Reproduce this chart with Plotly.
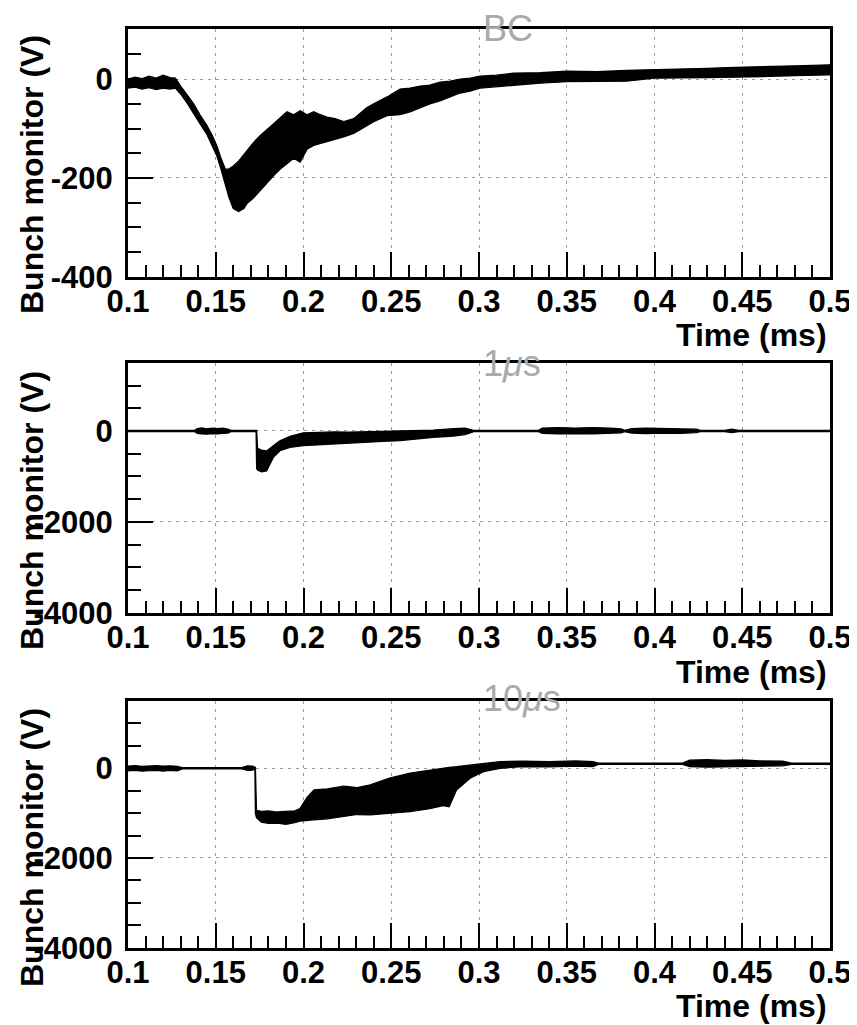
import plotly.graph_objects as go

# The page body has an 8 px default margin, so the figure is drawn 8 px in.
PAGE_MARGIN = 8
W, H = 857 - PAGE_MARGIN, 1025 - PAGE_MARGIN

# ---------------- data ----------------
# Panel "BC": envelope of the bunch-monitor waveform (V) vs time (ms)
T_BC = [0.100, 0.104, 0.108, 0.112, 0.116, 0.120, 0.124, 0.127, 0.130, 0.134,
        0.1374, 0.141, 0.145, 0.148, 0.1507, 0.153, 0.1554, 0.1574, 0.160, 0.163,
        0.166, 0.1678, 0.1716, 0.1754, 0.1792, 0.183, 0.1868, 0.1906, 0.1944, 0.1981,
        0.2020, 0.2058, 0.2096, 0.2134, 0.218, 0.2229, 0.2286, 0.2324, 0.236, 0.240,
        0.2476, 0.255, 0.2607, 0.2664, 0.272, 0.2778, 0.2835, 0.2892, 0.295, 0.3006,
        0.310, 0.3195, 0.335, 0.350, 0.367, 0.384, 0.400, 0.415, 0.430, 0.446,
        0.462, 0.480, 0.500]
UP_BC = [0, 4, 1, 6, 2, 8, 3, 2, -14, -34,
         -50, -72, -94, -114, -136, -160, -182, -182, -176, -166,
         -152, -146, -128, -114, -101, -90, -78, -66, -72, -64,
         -72, -66, -72, -77, -80, -86, -80, -68, -58, -50,
         -36, -20, -18, -14, -12, -6, -4, 0, 2, 6,
         8, 12, 13, 16, 15, 18, 19, 20, 22, 24,
         26, 27, 29]
LO_BC = [-18, -16, -20, -17, -21, -18, -20, -18, -30, -50,
         -68, -90, -112, -134, -156, -182, -210, -238, -262, -268,
         -262, -252, -240, -225, -210, -195, -182, -171, -160, -168,
         -142, -134, -130, -127, -122, -117, -110, -103, -95, -86,
         -74, -72, -66, -58, -50, -44, -36, -28, -24, -18,
         -15, -12, -8, -5, -5, -4, 2, 3, 3, 4,
         5, 7, 9]

# Panel "1 us"
T_1US = [0.100, 0.138, 0.1395, 0.142, 0.145, 0.148, 0.151, 0.154, 0.157, 0.1585,
         0.1730, 0.1733, 0.1738, 0.176, 0.179, 0.1805, 0.1828, 0.1866, 0.1923, 0.1999,
         0.208, 0.217, 0.226, 0.236, 0.245, 0.255, 0.265, 0.274, 0.2854, 0.292,
         0.297, 0.300, 0.334, 0.336, 0.345, 0.355, 0.365, 0.375, 0.381, 0.383,
         0.387, 0.395, 0.405, 0.415, 0.424, 0.426, 0.440, 0.444, 0.448, 0.500]
UP_1US = [15, 15, 50, 65, 45, 60, 50, 60, 40, 15,
          15, 15, -380, -420, -440, -400, -324, -214, -117, -40,
          -30, -20, -25, -15, -10, -5, 10, 20, 50, 60,
          15, 15, 15, 60, 75, 65, 75, 60, 45, 15,
          50, 60, 50, 45, 40, 15, 15, 40, 15, 15]
LO_1US = [-15, -15, -50, -65, -70, -55, -65, -50, -45, -15,
          -15, -820, -860, -900, -880, -760, -580, -434, -360, -324,
          -310, -300, -280, -250, -230, -214, -180, -140, -110, -80,
          -15, -15, -15, -50, -65, -55, -65, -55, -40, -15,
          -45, -55, -45, -50, -35, -15, -15, -35, -15, -15]

# Panel "10 us"
T_10US = [0.100, 0.104, 0.108, 0.112, 0.116, 0.120, 0.124, 0.128, 0.131, 0.165,
          0.168, 0.171, 0.1723, 0.1726, 0.1732, 0.176, 0.180, 0.185, 0.190, 0.195,
          0.198, 0.2021, 0.206, 0.2135, 0.223, 0.2306, 0.238, 0.249, 0.2607, 0.272,
          0.2796, 0.283, 0.2872, 0.2949, 0.3025, 0.312, 0.325, 0.340, 0.355, 0.365,
          0.368, 0.416, 0.420, 0.430, 0.440, 0.450, 0.460, 0.473, 0.478, 0.500]
UP_10US = [45, 60, 40, 55, 60, 45, 55, 40, 15, 15,
           55, 45, 20, 20, -940, -960, -950, -975, -960, -950,
           -900, -644, -480, -460, -400, -430, -371, -222, -111, -38,
           0, 20, 35, 73, 110, 150, 160, 150, 165, 150,
           115, 115, 180, 190, 175, 185, 165, 160, 115, 115]
LO_10US = [-60, -45, -65, -50, -45, -65, -45, -55, -15, -15,
           -45, -40, -15, -1000, -1100, -1200, -1230, -1220, -1250, -1210,
           -1180, -1163, -1150, -1126, -1080, -1030, -1040, -1000, -964, -900,
           -830, -860, -482, -222, -75, 0, 40, 30, 50, 40,
           85, 85, 40, 25, 35, 30, 50, 55, 85, 85]

PANEL_TITLES = ["BC", "1<i>μ</i>s", "10<i>μ</i>s"]
X_TITLE = "Time (ms)"
Y_TITLE = "Bunch monitor (V)"
X_TICKS = [0.1, 0.15, 0.2, 0.25, 0.3, 0.35, 0.4, 0.45, 0.5]
X_TICK_LABELS = ["0.1", "0.15", "0.2", "0.25", "0.3", "0.35", "0.4", "0.45", "0.5"]
Y_TICKS_BC = [-400, -200, 0]
Y_TICK_LABELS_BC = ["-400", "-200", "0"]
Y_TICKS_KV = [-4000, -2000, 0]
Y_TICK_LABELS_KV = ["-4000", "-2000", "0"]

# ---------------- layout geometry (window pixels) ----------------
X_LEFT, X_RIGHT = 128, 830
PANELS = [
    dict(top=29.3, bottom=276.7, rng=[-400, 101], minor=50,
         tv=Y_TICKS_BC, tt=Y_TICK_LABELS_BC),
    dict(top=363.3, bottom=612.7, rng=[-4000, 1490], minor=500,
         tv=Y_TICKS_KV, tt=Y_TICK_LABELS_KV),
    dict(top=701.0, bottom=947.7, rng=[-4000, 1500], minor=500,
         tv=Y_TICKS_KV, tt=Y_TICK_LABELS_KV),
]
SERIES = [(T_BC, UP_BC, LO_BC), (T_1US, UP_1US, LO_1US), (T_10US, UP_10US, LO_10US)]

TICKFONT = dict(family="Liberation Sans", size=31, color="black", weight="bold")
TITLEFONT = dict(family="Liberation Sans", size=32, color="black", weight="bold")

fig = go.Figure()
layout = dict(
    width=W, height=H,
    margin=dict(l=0, r=0, t=0, b=0, autoexpand=False),
    paper_bgcolor="white", plot_bgcolor="white",
    showlegend=False,
    annotations=[],
)

def px_x(x):
    return (x - PAGE_MARGIN) / W

def px_y(y):
    return 1 - (y - PAGE_MARGIN) / H

for i, (p, (t, up, lo)) in enumerate(zip(PANELS, SERIES)):
    n = "" if i == 0 else str(i + 1)
    fig.add_trace(go.Scatter(
        x=list(t) + list(t)[::-1],
        y=list(up) + list(lo)[::-1],
        mode="lines", fill="toself",
        fillcolor="black", line=dict(color="black", width=1.3),
        xaxis="x" + n, yaxis="y" + n, hoverinfo="skip",
    ))
    layout["xaxis" + n] = dict(
        domain=[px_x(X_LEFT), px_x(X_RIGHT)], anchor="y" + n, automargin=False,
        range=[0.1, 0.5], tickmode="array", tickvals=X_TICKS, ticktext=X_TICK_LABELS,
        ticks="inside", ticklen=25, tickwidth=1.5, tickcolor="black",
        minor=dict(dtick=0.01, tick0=0.1, ticks="inside", ticklen=12,
                   tickwidth=1.5, tickcolor="black", showgrid=False),
        showgrid=True, gridcolor="#999999", gridwidth=1, griddash="3px,5px",
        zeroline=False, showline=True, mirror=True, linecolor="black", linewidth=3,
        tickfont=TICKFONT, ticklabelstandoff=-5, ticklabeloverflow="allow",
    )
    layout["yaxis" + n] = dict(
        domain=[px_y(p["bottom"]), px_y(p["top"])], anchor="x" + n, automargin=False,
        range=p["rng"], tickmode="array", tickvals=p["tv"], ticktext=p["tt"],
        ticks="inside", ticklen=25, tickwidth=1.5, tickcolor="black",
        minor=dict(dtick=p["minor"], tick0=0, ticks="inside", ticklen=13,
                   tickwidth=1.5, tickcolor="black", showgrid=False),
        showgrid=True, gridcolor="#999999", gridwidth=1, griddash="3px,5px",
        zeroline=False, showline=True, mirror=True, linecolor="black", linewidth=3,
        tickfont=TICKFONT, ticklabelstandoff=6, ticklabeloverflow="allow",
    )

# panel titles
for txt, ycen in zip(PANEL_TITLES, [29, 363, 698]):
    layout["annotations"].append(dict(
        text=txt, xref="paper", yref="paper", x=px_x(481), y=px_y(ycen),
        xanchor="left", yanchor="middle", showarrow=False,
        font=dict(family="Liberation Sans", size=36, color="#aaaaaa")))

# axis titles
for ycen in [335, 672, 1006]:
    layout["annotations"].append(dict(
        text=X_TITLE, xref="paper", yref="paper", x=px_x(829), y=px_y(ycen),
        xanchor="right", yanchor="middle", showarrow=False, font=TITLEFONT))
for ycen in [175, 511, 848]:
    layout["annotations"].append(dict(
        text=Y_TITLE, xref="paper", yref="paper", x=px_x(32), y=px_y(ycen),
        xanchor="center", yanchor="middle", textangle=-90, showarrow=False,
        font=TITLEFONT))

fig.update_layout(**layout)
fig.write_html("out.html")
